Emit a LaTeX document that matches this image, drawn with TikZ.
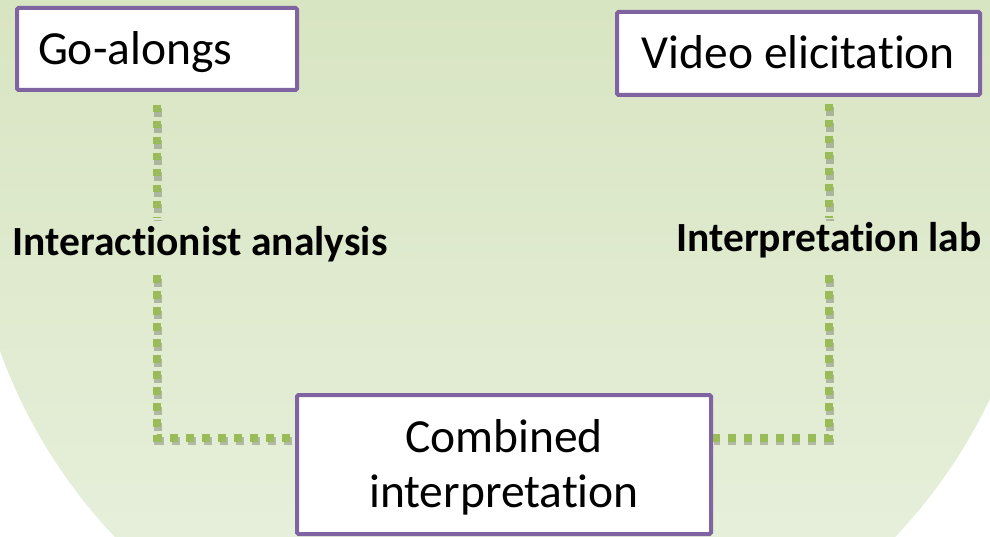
\documentclass[tikz,border=0pt]{standalone}
\usepackage{fontspec}
\setmainfont{Carlito}[Ligatures={NoCommon,NoContextual}]
\definecolor{boxline}{HTML}{8064A2}
\definecolor{dotgreen}{HTML}{9BBB59}
\definecolor{bgtop}{HTML}{D8E5C2}
\definecolor{bgbottom}{HTML}{E6EFDA}
\begin{document}
\begin{tikzpicture}[x=1pt,y=-1pt,
  stagebox/.style={draw=boxline, line width=4pt, fill=white, rounded corners=1.5pt,
    inner sep=0pt, font=\fontsize{47.5}{55}\selectfont, text height=30.6pt, text depth=0pt},
  method/.style={font=\bfseries\fontsize{41.5}{48}\selectfont, inner xsep=0pt, inner ysep=11pt,
    text height=27pt, text depth=8pt},
  link/.style={draw=dotgreen, line width=7.5pt, dash pattern=on 7.5pt off 8.5pt,
    preaction={draw=black, draw opacity=0.22, line width=8.5pt,
      dash pattern=on 8.5pt off 7.5pt, dash phase=-0.5pt,
      transform canvas={xshift=1pt,yshift=-3pt}}}
]
% canvas and round backdrop
\useasboundingbox (0,0) rectangle (990,537);
\fill[white] (0,0) rectangle (990,537);
\begin{scope}
  \clip (505,168) circle[radius=537pt];
  \shade[top color=bgtop, bottom color=bgbottom] (0,0) rectangle (990,537);
\end{scope}

% stages
\node[stagebox, text width=238pt, align=left, inner xsep=21pt, minimum height=82pt]
  (go) at (157,49) {Go-alongs};
\node[stagebox, minimum width=363pt, minimum height=83pt]
  (ve) at (798.5,53.5) {Video elicitation};
\node[stagebox, minimum width=414pt, minimum height=139pt, align=center,
  text height=85.6pt, text depth=0pt]
  (comb) at (504,464.5) {Combined\\interpretation};

% analysis methods
\node[method] (ia) at (200,246.5) {Interactionist analysis};
\node[method, text height=23pt, text depth=12pt] (il) at (829,246.5) {Interpretation lab};

% dotted connectors
\draw[link, shorten <=13pt] (go.south) -- (go.south |- ia.north);
\draw[link] (go.south |- ia.south) |- ([yshift=26.5pt]comb.west);
\draw[link, shorten <=7pt] (ve.south -| il.north) -- (il.north);
\draw[link] (il.south) |- ([yshift=26.5pt]comb.east);
\end{tikzpicture}
\end{document}
